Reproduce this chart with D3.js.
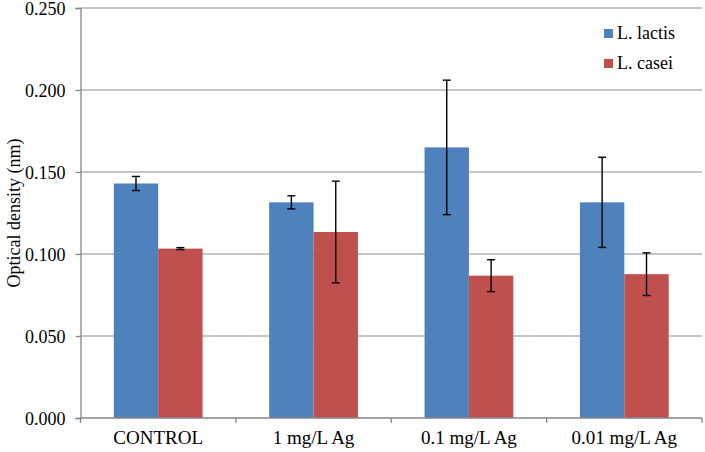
<!DOCTYPE html>
<html>
<head>
<meta charset="utf-8">
<script src="https://cdn.jsdelivr.net/npm/d3@7"></script>
<style>
  body { margin: 0; background: #fff; }
  svg { display: block; }
</style>
</head>
<body>
<svg id="chart" width="705" height="452"></svg>
<script>
const categories = ["CONTROL", "1 mg/L Ag", "0.1 mg/L Ag", "0.01 mg/L Ag"];
const seriesNames = ["L. lactis", "L. casei"];
const lactis = [0.143, 0.1315, 0.165, 0.1315];
const lactisErr = [0.0043, 0.004, 0.041, 0.0275];
const casei = [0.1033, 0.1134, 0.0868, 0.0877];
const caseiErr = [0.0006, 0.031, 0.0097, 0.013];
const yTicks = [0, 0.05, 0.1, 0.15, 0.2, 0.25];
const colors = ["#4F81BD", "#C0504D"];

(function () {
const FONT = '"Liberation Serif"';
const FS = "18px";
const svg = d3.select("#chart");
const pLeft = 80.5, pRight = 702, pTop = 8, pBottom = 418;

const x = d3.scaleBand().domain(categories).range([pLeft, pRight]).paddingInner(0).paddingOuter(0);
const y = d3.scaleLinear().domain([0, 0.25]).range([pBottom, pTop]);
const groupW = x.bandwidth();
const barW = groupW / 3.5;

// gridlines
svg.append("g").selectAll("line").data(yTicks.filter(d => d > 0)).join("line")
  .attr("x1", pLeft).attr("x2", pRight)
  .attr("y1", d => y(d)).attr("y2", d => y(d))
  .attr("stroke", "#b3b3b3").attr("stroke-width", 1.3);

const series = [
  { name: seriesNames[0], vals: lactis, err: lactisErr, color: colors[0] },
  { name: seriesNames[1], vals: casei, err: caseiErr, color: colors[1] }
];

series.forEach((s, si) => {
  const g = svg.append("g");
  g.selectAll("rect").data(categories).join("rect")
    .attr("x", (c) => x(c) + groupW / 2 - barW + si * barW)
    .attr("width", barW)
    .attr("y", (c, i) => y(s.vals[i]))
    .attr("height", (c, i) => y(0) - y(s.vals[i]))
    .attr("fill", s.color);
});

series.forEach((s, si) => {
  const g = svg.append("g").attr("stroke", "#000").attr("stroke-width", 1.4);
  categories.forEach((c, i) => {
    const cx = x(c) + groupW / 2 - barW + si * barW + barW / 2;
    const hi = y(s.vals[i] + s.err[i]), lo = y(s.vals[i] - s.err[i]);
    g.append("line").attr("x1", cx).attr("x2", cx).attr("y1", hi).attr("y2", lo);
    g.append("line").attr("x1", cx - 4).attr("x2", cx + 4).attr("y1", hi).attr("y2", hi);
    g.append("line").attr("x1", cx - 4).attr("x2", cx + 4).attr("y1", lo).attr("y2", lo);
  });
});

// y axis
const yAxis = svg.append("g").attr("transform", `translate(${pLeft},0)`)
  .call(d3.axisLeft(y).tickValues(yTicks).tickFormat(d3.format(".3f")).tickSize(5).tickPadding(10));
yAxis.attr("font-family", null).attr("font-size", null);
yAxis.select(".domain").attr("stroke", "#868686").attr("stroke-width", 1.3);
yAxis.selectAll(".tick line").attr("stroke", "#868686").attr("stroke-width", 1.3);
yAxis.selectAll(".tick text").style("font-family", FONT).style("font-size", FS).attr("fill", "#000").attr("dy", "0.34em");

// x axis
const xAxis = svg.append("g").attr("transform", `translate(0,${pBottom})`);
xAxis.append("line").attr("x1", pLeft).attr("x2", pRight).attr("y1", 0).attr("y2", 0)
  .attr("stroke", "#868686").attr("stroke-width", 1.3);
const bounds = categories.map(c => x(c)).concat([pRight]);
xAxis.selectAll("line.t").data(bounds).join("line").attr("class", "t")
  .attr("x1", d => d).attr("x2", d => d).attr("y1", 0).attr("y2", 5)
  .attr("stroke", "#868686").attr("stroke-width", 1.3);
xAxis.selectAll("text").data(categories).join("text")
  .attr("x", c => x(c) + groupW / 2).attr("y", 26)
  .attr("text-anchor", "middle").style("font-family", FONT).style("font-size", "19px")
  .text(c => c);

// y title
svg.append("text")
  .attr("transform", `translate(20,${(pTop + pBottom) / 2}) rotate(-90)`)
  .attr("text-anchor", "middle").style("font-family", FONT).style("font-size", FS)
  .text("Optical density (nm)");

// legend
const leg = svg.append("g");
series.forEach((s, i) => {
  const ly = 29 + i * 30;
  leg.append("rect").attr("x", 604).attr("y", ly).attr("width", 9).attr("height", 9).attr("fill", s.color);
  leg.append("text").attr("x", 617).attr("y", ly + 10).style("font-family", FONT).style("font-size", FS).text(s.name);
});
})();
</script>
</body>
</html>
